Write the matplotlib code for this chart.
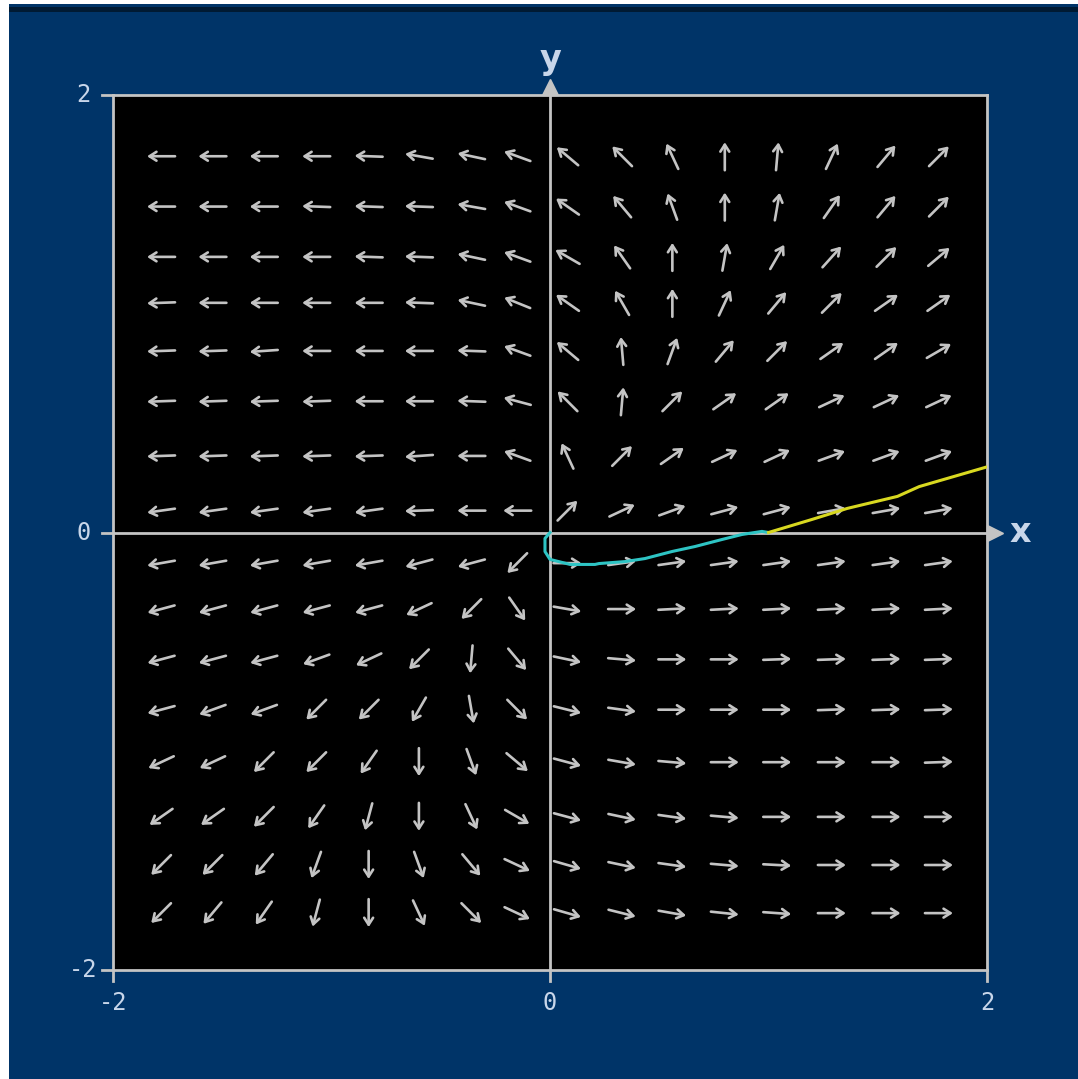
import numpy as np
import matplotlib.pyplot as plt
from matplotlib.patches import Rectangle

# direction field sample points
grid_x = [-1.78, -1.545, -1.31, -1.07, -0.83, -0.6, -0.36, -0.15,
          0.08, 0.33, 0.56, 0.8, 1.04, 1.29, 1.54, 1.78]
grid_y = [1.72, 1.49, 1.26, 1.05, 0.83, 0.6, 0.35, 0.1,
          -0.14, -0.35, -0.58, -0.81, -1.05, -1.3, -1.52, -1.74]

# arrow directions in degrees (0 = +x, 90 = +y), rows top to bottom
field_angles = [
    [180, 180, 180, 180, 178, 170, 168, 160, 140, 135, 115, 90, 85, 65, 50, 45],
    [180, 180, 180, 178, 178, 178, 170, 160, 145, 130, 110, 90, 80, 55, 50, 45],
    [180, 180, 180, 180, 178, 178, 168, 160, 150, 125, 90, 80, 60, 48, 45, 40],
    [182, 180, 180, 180, 180, 178, 168, 158, 145, 120, 90, 65, 50, 45, 35, 35],
    [182, 182, 184, 180, 180, 180, 178, 160, 140, 95, 70, 50, 45, 35, 35, 30],
    [182, 182, 182, 182, 180, 180, 178, 165, 135, 85, 45, 35, 35, 25, 25, 25],
    [182, 182, 182, 182, 182, 184, 180, 160, 115, 45, 35, 25, 25, 20, 20, 20],
    [188, 188, 188, 188, 188, 182, 180, 180, 45, 25, 20, 15, 15, 10, 10, 10],
    [190, 190, 190, 190, 190, 195, 195, 225, 0, 8, 8, 8, 8, 8, 8, 8],
    [195, 195, 195, 195, 195, 205, 225, 305, -10, 0, 3, 3, 3, 3, 3, 3],
    [195, 195, 195, 200, 205, 225, 265, 310, -12, -5, 0, 0, 2, 2, 2, 2],
    [195, 200, 200, 225, 225, 240, 280, 315, -14, -8, 0, 0, 0, 2, 2, 2],
    [205, 205, 225, 225, 235, 270, 290, 320, -15, -10, -5, 0, 0, 0, 0, 2],
    [215, 215, 225, 235, 255, 270, 295, 330, -15, -12, -8, -5, 0, 0, 0, 0],
    [225, 225, 230, 250, 270, 290, 310, 335, -16, -12, -8, -5, -3, 0, 0, 0],
    [225, 230, 235, 255, 270, 295, 315, 335, -16, -14, -10, -6, -4, 0, 0, 0],
]

# solution through (1, 0): backward part and forward part
back_x = [0.0, -0.023, -0.023, 0.0, 0.092, 0.206, 0.224, 0.343, 0.435,
          0.558, 0.664, 0.787, 0.879, 0.97, 1.0]
back_y = [0.0, -0.027, -0.087, -0.123, -0.146, -0.146, -0.142, -0.133, -0.119,
          -0.087, -0.064, -0.032, -0.009, 0.005, 0.0]
fwd_x = [1.0, 1.2, 1.36, 1.59, 1.69, 2.0]
fwd_y = [0.0, 0.06, 0.11, 0.165, 0.21, 0.30]

bg_blue = '#003468'
light = '#c4c4c4'
label_col = '#c8d6ea'

fig = plt.figure(figsize=(10.78, 10.79), dpi=100, facecolor='white')
fig.patches.append(Rectangle((9 / 1078, 0), 1, 1 - 4 / 1079,
                             transform=fig.transFigure, facecolor=bg_blue,
                             edgecolor='none', zorder=-10))
fig.patches.append(Rectangle((9 / 1078, 1 - 12 / 1079), 1, 5 / 1079,
                             transform=fig.transFigure, facecolor='#001a33',
                             edgecolor='none', zorder=-9))

ax = fig.add_axes([113 / 1078, 109 / 1079, 874 / 1078, 875 / 1079])
ax.set_facecolor('black')
ax.set_xlim(-2, 2)
ax.set_ylim(-2, 2)
for s in ax.spines.values():
    s.set_color(light)
    s.set_linewidth(2)
ax.set_xticks([])
ax.set_yticks([])

# axes through the origin
ax.axhline(0, color=light, lw=2, zorder=1)
ax.axvline(0, color=light, lw=2, zorder=1)

# direction field
half = 0.064
for i, yy in enumerate(grid_y):
    for j, xx in enumerate(grid_x):
        a = np.deg2rad(field_angles[i][j])
        dx, dy = half * np.cos(a), half * np.sin(a)
        ax.annotate('', xy=(xx + dx, yy + dy), xytext=(xx - dx, yy - dy),
                    arrowprops=dict(arrowstyle='->,head_length=0.5,head_width=0.32',
                                    color=light, lw=1.9,
                                    shrinkA=0, shrinkB=0), zorder=2)

ax.plot(back_x, back_y, color='#2ec4c4', lw=2.2, zorder=3)
ax.plot(fwd_x, fwd_y, color='#d8d820', lw=2.2, zorder=3)

# tick marks and labels outside the frame
for v, t in [(-2, '-2'), (0, '0'), (2, '2')]:
    ax.plot([-2.05, -2], [v, v], color=light, lw=2, clip_on=False)
    ax.plot([v, v], [-2.05, -2], color=light, lw=2, clip_on=False)
    ax.text(-2.135, v, t, color=label_col, fontsize=17, ha='center',
            va='center', family='DejaVu Sans Mono')
    ax.text(v, -2.15, t, color=label_col, fontsize=17, ha='center',
            va='center', family='DejaVu Sans Mono')

# axis arrowheads and names
ax.plot([0], [2.035], marker='^', color=light, ms=12, clip_on=False)
ax.plot([2.035], [0], marker='>', color=light, ms=12, clip_on=False)
ax.text(0, 2.16, 'y', color=label_col, fontsize=24, fontweight='bold',
        ha='center', va='center')
ax.text(2.15, 0, 'x', color=label_col, fontsize=24, fontweight='bold',
        ha='center', va='center')

fig.savefig('out.png', dpi=100, facecolor=fig.get_facecolor())
